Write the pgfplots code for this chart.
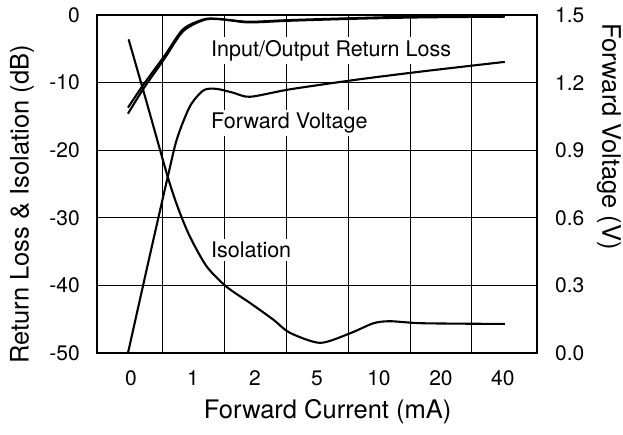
\documentclass[border=0pt]{standalone}
\usepackage{pgfplots}
\pgfplotsset{compat=1.18}
\usepackage{fontspec}
\setmainfont{TeX Gyre Heros}

\begin{document}
\begin{tikzpicture}
\useasboundingbox (-97pt,-81pt) rectangle (526pt,353pt);
\begin{axis}[
  scale only axis, width=440pt, height=338pt,
  xmin=-0.55, xmax=6.55, ymin=-50, ymax=0,
  xtick={0,1,2,3,4,5,6}, xticklabels={0,1,2,5,10,20,40},
  minor xtick={0.5,1.5,2.5,3.5,4.5,5.5},
  ytick={-50,-40,-30,-20,-10,0}, yticklabels={-50,-40,-30,-20,-10,0},
  xtick pos=bottom, ytick pos=left,
  major tick length=0pt, minor tick length=0pt,
  xmajorgrids=false, xminorgrids=true, ymajorgrids=true,
  grid style={black, line width=0.9pt},
  minor grid style={black, line width=0.9pt},
  axis line style={line width=1.5pt},
  tick label style={font=\fontsize{21}{24}\selectfont, inner sep=0pt},
  xticklabel style={anchor=center, yshift=-25pt},
  yticklabel style={anchor=east, xshift=-17pt},
  xlabel={Forward Current (mA)},
  ylabel={Return Loss \& Isolation (dB)},
  label style={font=\fontsize{25.5}{30}\selectfont},
  xlabel style={at={(axis description cs:0.524,0)}, anchor=center, yshift=-59pt},
  ylabel style={at={(axis description cs:-0.1705,0.44)}, anchor=center},
  clip=false,
]
% Input return loss
\addplot[black, line width=2.1pt, smooth, tension=0.5] coordinates {
(-0.05,-14.6) (0.2,-10.9) (0.55,-6.3) (0.84,-2.4) (1.17,-0.75) (1.38,-0.6) (1.6,-0.8) (1.92,-1.1) (2.56,-0.85) (3.64,-0.55) (4.71,-0.35) (6.03,-0.25)
};
% Output return loss
\addplot[black, line width=2.1pt, smooth, tension=0.5] coordinates {
(-0.05,-13.7) (0.2,-10.3) (0.55,-5.9) (0.84,-2.1) (1.17,-0.65) (1.38,-0.55) (1.6,-0.75) (1.92,-1.0) (2.56,-0.75) (3.64,-0.45) (4.71,-0.2) (6.03,-0.1)
};
% Isolation
\addplot[black, line width=2.1pt, smooth, tension=0.45] coordinates {
(-0.04,-3.6) (0.26,-13.2) (0.59,-23.9) (0.76,-28.6) (0.95,-32.8) (1.22,-37.2) (1.54,-40.2) (1.92,-42.6) (2.3,-45.1) (2.56,-47.0) (3.05,-48.5) (3.53,-47.1) (3.91,-45.6) (4.18,-45.3) (4.71,-45.6) (6.03,-45.7)
};
\node[anchor=west, fill=white, inner sep=3pt, font=\fontsize{21.5}{25}\selectfont] at (axis cs:1.24,-5.25) {Input/Output Return Loss};
\node[anchor=west, fill=white, inner sep=3pt, font=\fontsize{21.5}{25}\selectfont] at (axis cs:1.24,-16.0) {Forward Voltage};
\node[anchor=west, fill=white, inner sep=3pt, font=\fontsize{21.5}{25}\selectfont] at (axis cs:1.24,-34.8) {Isolation};
\end{axis}
\begin{axis}[
  scale only axis, width=440pt, height=338pt,
  xmin=-0.55, xmax=6.55, ymin=0, ymax=1.5,
  hide x axis,
  ytick={0,0.3,0.6,0.9,1.2,1.5}, yticklabels={0.0,0.3,0.6,0.9,1.2,1.5},
  ytick pos=right, yticklabel pos=right,
  major tick length=0pt,
  axis line style={draw=none},
  tick label style={font=\fontsize{21}{24}\selectfont, inner sep=0pt},
  yticklabel style={anchor=west, xshift=18pt},
  ylabel={Forward Voltage (V)},
  label style={font=\fontsize{25.5}{30}\selectfont},
  ylabel style={at={(axis description cs:1.1636,0.64)}, anchor=center, rotate=180},
  clip=false,
]
\addplot[black, line width=2.1pt, smooth, tension=0.45] coordinates {
(-0.05,0) (0.3,0.43) (0.59,0.78) (0.74,0.95) (0.95,1.095) (1.17,1.166) (1.38,1.172) (1.65,1.155) (1.92,1.137) (2.56,1.17) (3.64,1.213) (4.71,1.25) (6.03,1.292)
};
\end{axis}
\end{tikzpicture}
\end{document}
